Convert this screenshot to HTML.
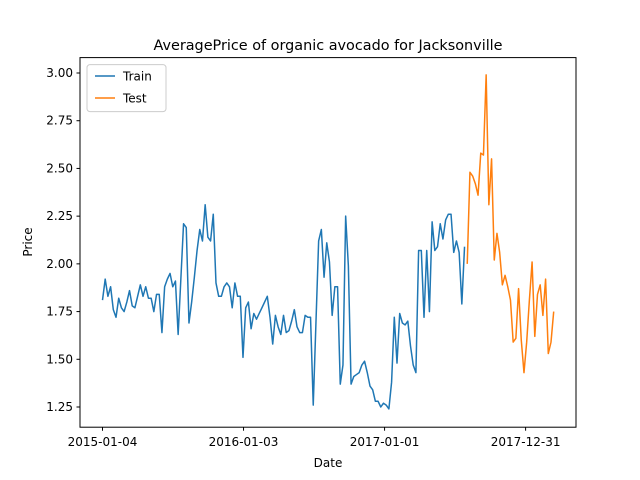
<!DOCTYPE html>
<html><head><meta charset="utf-8"><style>
body{margin:0;background:#fff}
svg{display:block;font-family:"DejaVu Sans","Liberation Sans",sans-serif}
</style></head><body>
<svg id="chart" width="640" height="480">
<rect width="640" height="480" fill="#fff"/>
<text x="328" y="50" font-size="14.4" text-anchor="middle">AveragePrice of organic avocado for Jacksonville</text>
<g id="grid"></g>
<g id="series"></g>
<rect x="80" y="57.6" width="496" height="369.6" fill="none" stroke="#000" stroke-width="1"/>
<text x="328" y="467" font-size="12" text-anchor="middle">Date</text>
<text transform="translate(32,242) rotate(-90)" font-size="12" text-anchor="middle">Price</text>
<g>
<rect x="87" y="64.6" width="79" height="47" rx="3" fill="#fff" fill-opacity="0.8" stroke="#ccc"/>
<line x1="95" y1="76" x2="115" y2="76" stroke="#1f77b4" stroke-width="1.5"/>
<text x="123" y="80.5" font-size="12">Train</text>
<line x1="95" y1="98" x2="115" y2="98" stroke="#ff7f0e" stroke-width="1.5"/>
<text x="123" y="102.5" font-size="12">Test</text>
</g>
</svg>
<script>
const trainValues=[1.81,1.92,1.83,1.88,1.76,1.72,1.82,1.77,1.75,1.80,1.86,1.78,1.77,1.83,1.89,1.83,1.88,1.82,1.82,1.75,1.84,1.84,1.64,1.88,1.92,1.95,1.88,1.91,1.63,1.92,2.21,2.19,1.69,1.80,1.93,2.07,2.18,2.12,2.31,2.14,2.12,2.26,1.90,1.83,1.83,1.88,1.90,1.88,1.77,1.90,1.83,1.83,1.51,1.77,1.80,1.66,1.74,1.71,1.74,1.77,1.80,1.83,1.72,1.58,1.73,1.67,1.63,1.73,1.64,1.65,1.70,1.76,1.67,1.64,1.64,1.73,1.72,1.72,1.26,1.69,2.12,2.18,1.93,2.11,2.01,1.73,1.88,1.88,1.37,1.47,2.25,1.99,1.37,1.41,1.42,1.43,1.47,1.49,1.43,1.36,1.34,1.28,1.28,1.25,1.27,1.26,1.24,1.38,1.72,1.48,1.74,1.69,1.68,1.70,1.57,1.47,1.43,2.07,2.07,1.72,2.07,1.75,2.22,2.07,2.09,2.21,2.13,2.23,2.26,2.26,2.06,2.12,2.06,1.79,2.09];
const testValues=[2.00,2.48,2.46,2.42,2.36,2.58,2.57,2.99,2.31,2.55,2.02,2.16,2.06,1.89,1.94,1.88,1.81,1.59,1.61,1.87,1.60,1.43,1.59,1.81,2.01,1.62,1.84,1.89,1.73,1.92,1.53,1.59,1.75];
const yTicks=[1.25,1.50,1.75,2.00,2.25,2.50,2.75,3.00];
const xTickLabels=["2015-01-04","2016-01-03","2017-01-01","2017-12-31"];
const xTickIdx=[0,52.2,104.4,156.6];

const NS="http://www.w3.org/2000/svg";
const totalN=trainValues.length+testValues.length;
const x0=102.5, xEnd=553.7;
const step=(xEnd-x0)/(totalN-1);
function xs(i){return x0+i*step;}
function ys(v){return 73+(3-v)*190.86;}
const grid=document.getElementById('grid');
yTicks.forEach(v=>{
  const y=ys(v);
  const l=document.createElementNS(NS,'line');
  l.setAttribute('x1',76.5);l.setAttribute('x2',80);l.setAttribute('y1',y);l.setAttribute('y2',y);l.setAttribute('stroke','#000');
  
  
  grid.appendChild(l);
  const t=document.createElementNS(NS,'text');
  t.setAttribute('x',73);t.setAttribute('y',y+4);t.setAttribute('font-size','12');t.setAttribute('text-anchor','end');
  t.textContent=v.toFixed(2);
  
  
  grid.appendChild(t);
});
xTickIdx.forEach((idx,k)=>{
  const x=xs(idx);
  const l=document.createElementNS(NS,'line');
  l.setAttribute('x1',x);l.setAttribute('x2',x);l.setAttribute('y1',427.2);l.setAttribute('y2',430.7);l.setAttribute('stroke','#000');
  
  
  grid.appendChild(l);
  const t=document.createElementNS(NS,'text');
  t.setAttribute('x',x);t.setAttribute('y',446);t.setAttribute('font-size','12');t.setAttribute('text-anchor','middle');
  t.textContent=xTickLabels[k];
  
  
  grid.appendChild(t);
});
const series=document.getElementById('series');
function drawLine(vals,start,color,name){
  const p=document.createElementNS(NS,'polyline');
  p.setAttribute('points',vals.map((v,i)=>xs(start+i).toFixed(2)+','+ys(v).toFixed(2)).join(' '));
  p.setAttribute('fill','none');p.setAttribute('stroke',color);p.setAttribute('stroke-width','1.5');p.setAttribute('stroke-linejoin','round');
  
  
  series.appendChild(p);
}
drawLine(trainValues,0,'#1f77b4','train-line');
drawLine(testValues,trainValues.length,'#ff7f0e','test-line');
</script>
</body></html>
